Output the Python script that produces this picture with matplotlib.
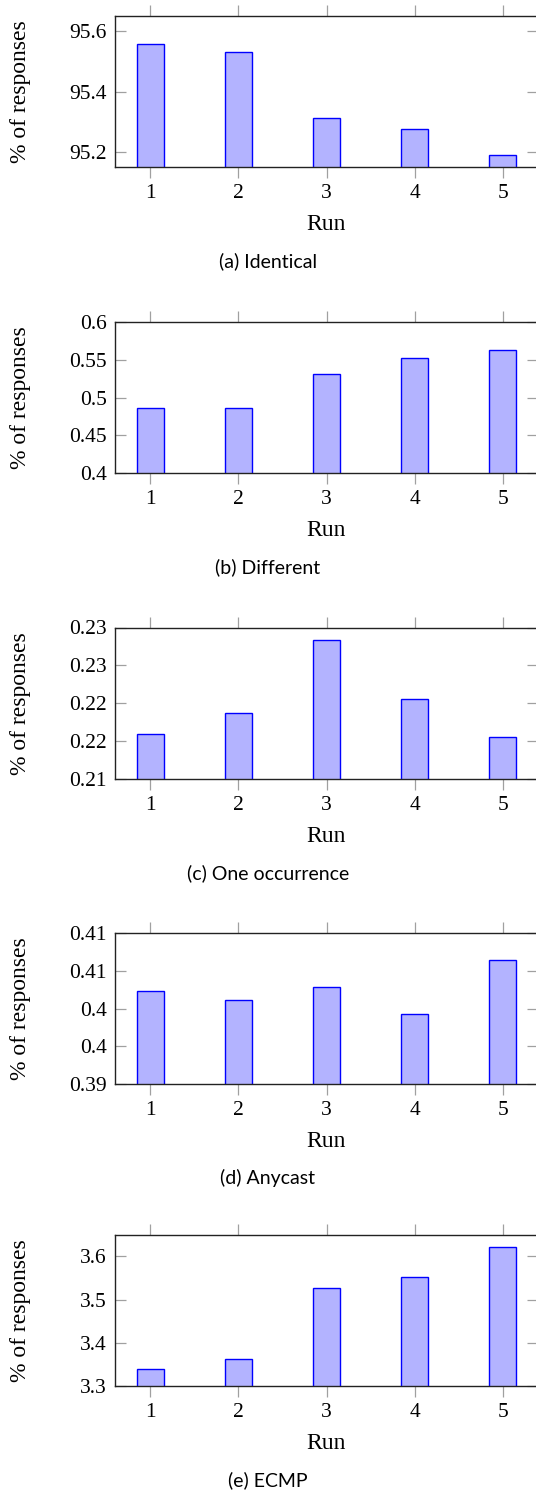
import matplotlib.pyplot as plt

plt.rcParams['font.family'] = ['Liberation Serif', 'DejaVu Serif']

runs = [1, 2, 3, 4, 5]

identical = [95.557, 95.531, 95.312, 95.278, 95.192]
different = [0.486, 0.486, 0.531, 0.552, 0.563]
one_occurrence = [0.2159, 0.2187, 0.2284, 0.2205, 0.2156]
anycast = [0.4023, 0.4011, 0.4028, 0.3993, 0.4064]
ecmp = [3.339, 3.364, 3.526, 3.552, 3.622]

captions = ['(a) Identical', '(b) Different', '(c) One occurrence',
            '(d) Anycast', '(e) ECMP']
series = [identical, different, one_occurrence, anycast, ecmp]

y_limits = [(95.15, 95.65), (0.4, 0.6), (0.21, 0.23), (0.39, 0.41), (3.3, 3.65)]
y_ticks = [
    [95.2, 95.4, 95.6],
    [0.4, 0.45, 0.5, 0.55, 0.6],
    [0.21, 0.215, 0.22, 0.225, 0.23],
    [0.39, 0.395, 0.4, 0.405, 0.41],
    [3.3, 3.4, 3.5, 3.6],
]
y_labels = [
    ['95.2', '95.4', '95.6'],
    ['0.4', '0.45', '0.5', '0.55', '0.6'],
    ['0.21', '0.22', '0.22', '0.23', '0.23'],
    ['0.39', '0.4', '0.4', '0.41', '0.41'],
    ['3.3', '3.4', '3.5', '3.6'],
]

W, H = 536, 1493
fig = plt.figure(figsize=(W / 100, H / 100), dpi=100)

ax_left, ax_right = 115.2, 537.8
ax_h = 151.5
bottoms = [167.3, 473.3, 779.0, 1084.3, 1386.3]

for i, vals in enumerate(series):
    b = bottoms[i]
    ax = fig.add_axes([ax_left / W, 1 - b / H, (ax_right - ax_left) / W, ax_h / H])
    ax.bar(runs, vals, width=0.3, color='#b3b3ff', edgecolor='#0000ff',
           linewidth=1.0, zorder=2)
    ax.set_xlim(0.6, 5.4)
    ax.set_ylim(*y_limits[i])
    ax.set_xticks(runs)
    ax.set_xticklabels([str(r) for r in runs], fontsize=15.5)
    ax.set_yticks(y_ticks[i])
    ax.set_yticklabels(y_labels[i], fontsize=15.5)
    ax.tick_params(axis='x', which='both', direction='out', length=8, width=0.9,
                   color='#a0a0a0', top=True, bottom=True, pad=4)
    ax.tick_params(axis='y', which='both', direction='in', length=8, width=0.9,
                   color='#a0a0a0', left=True, right=True, pad=6)
    for s in ax.spines.values():
        s.set_color('#222222')
        s.set_linewidth(1.0)

    # x label, y label and caption
    fig.text(326.5 / W, 1 - (b + 57.5) / H, 'Run', ha='center', va='center',
             fontsize=17)
    fig.text(20.5 / W, 1 - (b - ax_h / 2) / H, '% of responses', ha='center',
             va='center', rotation=90, fontsize=17)
    fig.text(268 / W, 1 - (b + 94) / H, captions[i], ha='center', va='center',
             family=['Lato', 'DejaVu Sans'], fontsize=14)

fig.savefig('out.png', dpi=100)
